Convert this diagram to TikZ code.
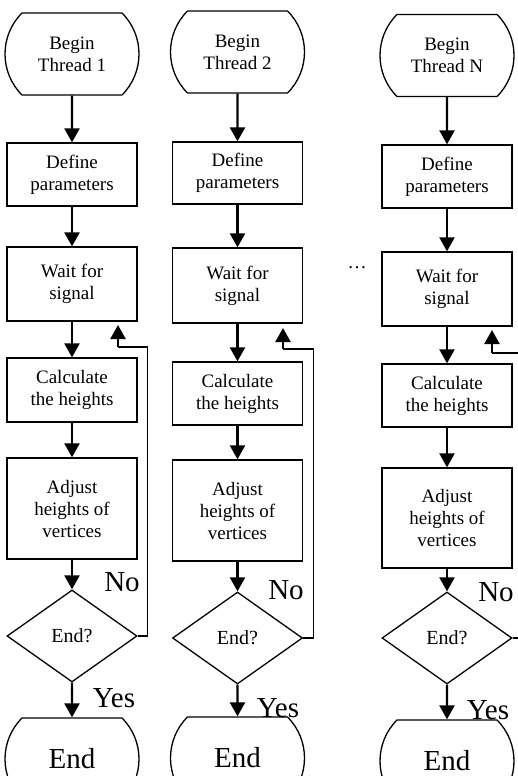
\documentclass[tikz,border=0pt]{standalone}
\usepackage{fontspec}
\setmainfont{Liberation Serif}
\usetikzlibrary{shapes.geometric,shapes.misc,arrows.meta}
\begin{document}
\begin{tikzpicture}[x=1pt,y=-1pt,
 box/.style={draw,line width=1.3pt,rectangle,minimum width=130pt,inner sep=0pt,align=center,font=\fontsize{19}{22}\selectfont},
 term/.style={draw,line width=1.3pt,rounded rectangle,rounded rectangle arc length=90,minimum width=134pt,minimum height=82pt,inner sep=0pt,align=center,font=\fontsize{19}{22}\selectfont},
 endterm/.style={term,font=\fontsize{29}{32}\selectfont},
 dec/.style={draw,line width=1.3pt,diamond,minimum width=130pt,minimum height=92pt,inner sep=0pt,font=\fontsize{20}{23}\selectfont},
 arr/.style={line width=2.3pt,-{Triangle[width=15pt,length=14pt]}},
 fb/.style={line width=1.3pt},
 lab/.style={font=\fontsize{29}{32}\selectfont,inner sep=0pt},
]
\useasboundingbox (0,0) rectangle (518,776);
\clip (0,0) rectangle (518,776);
\fill[white] (0,0) rectangle (518,776);

% Column 1
\node[term] (b1) at (72,54) {Begin\\Thread 1};
\node[box,minimum height=63pt] (p1) at (72,174.5) {Define\\parameters};
\node[box,minimum height=74pt] (w1) at (72,284) {Wait for\\signal};
\node[box,minimum height=64pt] (c1) at (72,390) {Calculate\\the heights};
\node[box,minimum height=101pt] (a1) at (72,508.5) {Adjust\\heights of\\vertices};
\node[dec] (d1) at (72,636) {End?};
\node[endterm] (e1) at (72,759) {End};
\draw[arr] (b1) -- (p1);
\draw[arr] (p1) -- (w1);
\draw[arr] (w1) -- (c1);
\draw[arr] (c1) -- (a1);
\draw[arr] (a1) -- (d1);
\draw[arr] (d1) -- (e1);
\coordinate (k1) at (118,347);
\coordinate (t1) at (118,325);
\draw[fb] (d1.east) -- ++(10,0) |- (k1);
\draw[arr] (k1) -- (t1);
\node[lab] (n1) at (122,582) {No};
\node[lab] (y1) at (114,698) {Yes};

% Column 2
\node[term] (b2) at (237.5,52) {Begin\\Thread 2};
\node[box,minimum height=62pt] (p2) at (237.5,173) {Define\\parameters};
\node[box,minimum height=75pt] (w2) at (237.5,285.5) {Wait for\\signal};
\node[box,minimum height=63pt] (c2) at (237.5,393.5) {Calculate\\the heights};
\node[box,minimum height=101pt] (a2) at (237.5,510.5) {Adjust\\heights of\\vertices};
\node[dec] (d2) at (237.5,638) {End?};
\node[endterm] (e2) at (237.5,758) {End};
\draw[arr] (b2) -- (p2);
\draw[arr] (p2) -- (w2);
\draw[arr] (w2) -- (c2);
\draw[arr] (c2) -- (a2);
\draw[arr] (a2) -- (d2);
\draw[arr] (d2) -- (e2);
\coordinate (k2) at (283,349);
\coordinate (t2) at (283,328);
\draw[fb] (d2.east) -- ++(10,0) |- (k2);
\draw[arr] (k2) -- (t2);
\node[lab] (n2) at (286,590) {No};
\node[lab] (y2) at (278,708) {Yes};

% Column 3
\node[font=\fontsize{19}{22}\selectfont] (dots) at (357,268) {\dots};
\node[term] (b3) at (447,55.5) {Begin\\Thread N};
\node[box,minimum height=63pt] (p3) at (447,176.5) {Define\\parameters};
\node[box,minimum height=74pt] (w3) at (447,289) {Wait for\\signal};
\node[box,minimum height=63pt] (c3) at (447,395.5) {Calculate\\the heights};
\node[box,minimum height=100pt] (a3) at (447,518) {Adjust\\heights of\\vertices};
\node[dec] (d3) at (447,638) {End?};
\node[endterm] (e3) at (447,761) {End};
\draw[arr] (b3) -- (p3);
\draw[arr] (p3) -- (w3);
\draw[arr] (w3) -- (c3);
\draw[arr] (c3) -- (a3);
\draw[arr] (a3) -- (d3);
\draw[arr] (d3) -- (e3);
\coordinate (k3) at (492,353);
\coordinate (t3) at (492,330);
\coordinate (r3) at (530,353);
\draw[fb] (d3.east) -- ++(20,0);
\draw[fb] (r3) -- (k3);
\draw[arr] (k3) -- (t3);
\node[lab] (n3) at (496,592) {No};
\node[lab] (y3) at (488,710) {Yes};
\end{tikzpicture}
\end{document}
